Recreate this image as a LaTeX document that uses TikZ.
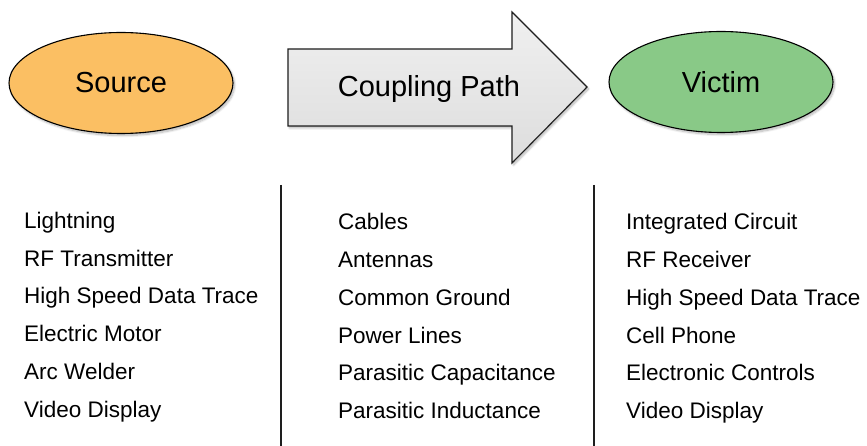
\documentclass[tikz,border=0pt]{standalone}
\usepackage{fontspec}
\setmainfont{Liberation Sans}
\usepackage{tikz}
\usetikzlibrary{positioning,shapes.geometric,shadows.blur}
\definecolor{srccolor}{RGB}{251,191,99}
\definecolor{viccolor}{RGB}{137,201,135}
\definecolor{pathcolor}{RGB}{230,230,230}
\definecolor{lineDark}{RGB}{30,30,30}
\tikzset{
  blobshape/.style={ellipse, draw=black, line width=1.1pt,
    minimum width=224pt, minimum height=101pt, inner sep=0pt,
    font=\fontsize{29}{32}\selectfont,
    blur shadow={shadow blur steps=8, shadow opacity=30,
                 shadow xshift=1.5pt, shadow yshift=-2pt}},
  srcblob/.style={blobshape, fill=srccolor},
  vicblob/.style={blobshape, fill=viccolor},
  pathshape/.style={draw=lineDark, line width=1.1pt, line join=miter,
    top color=pathcolor!60!white, bottom color=pathcolor!96!black,
    blur shadow={shadow blur steps=8, shadow opacity=30,
                 shadow xshift=1.5pt, shadow yshift=-2pt}},
  listitem/.style={anchor=base west, inner sep=0pt,
    font=\fontsize{22.5}{26}\selectfont},
  divider/.style={line width=2.4pt, lineDark},
}
\begin{document}
\begin{tikzpicture}[x=1pt,y=-1pt]
  \useasboundingbox (0,0) rectangle (867,446);
  % --- top row ---
  \node[srcblob] (source) at (121,83) {Source};
  \node[vicblob] (victim) at (721,82) {Victim};
  \draw[pathshape] (288,49) -- (512,49) -- (512,12) -- (587,87)
    -- (512,163) -- (512,126) -- (288,126) -- cycle;
  \node[anchor=base, inner sep=0pt, font=\fontsize{29}{32}\selectfont]
    (coupling) at (429,97) {Coupling Path};
  % --- dividers ---
  \coordinate (divAtop) at (281,185);
  \coordinate (divAbot) at (281,446);
  \coordinate (divBtop) at (594,185);
  \coordinate (divBbot) at (594,446);
  \draw[divider] (divAtop) -- (divAbot);
  \draw[divider] (divBtop) -- (divBbot);
  % --- lists ---
  \foreach \txt [count=\i from 0] in {Lightning, RF Transmitter,
      High Speed Data Trace, Electric Motor, Arc Welder, Video Display}
    \node[listitem] (src\i) at (24,228.5+37.7*\i) {\txt};
  \foreach \txt [count=\i from 0] in {Cables, Antennas, Common Ground,
      Power Lines, Parasitic Capacitance, Parasitic Inductance}
    \node[listitem] (cpl\i) at (338,230+37.7*\i) {\txt};
  \foreach \txt [count=\i from 0] in {Integrated Circuit, RF Receiver,
      High Speed Data Trace, Cell Phone, Electronic Controls, Video Display}
    \node[listitem] (vic\i) at (626,230+37.7*\i) {\txt};
\end{tikzpicture}
\end{document}
